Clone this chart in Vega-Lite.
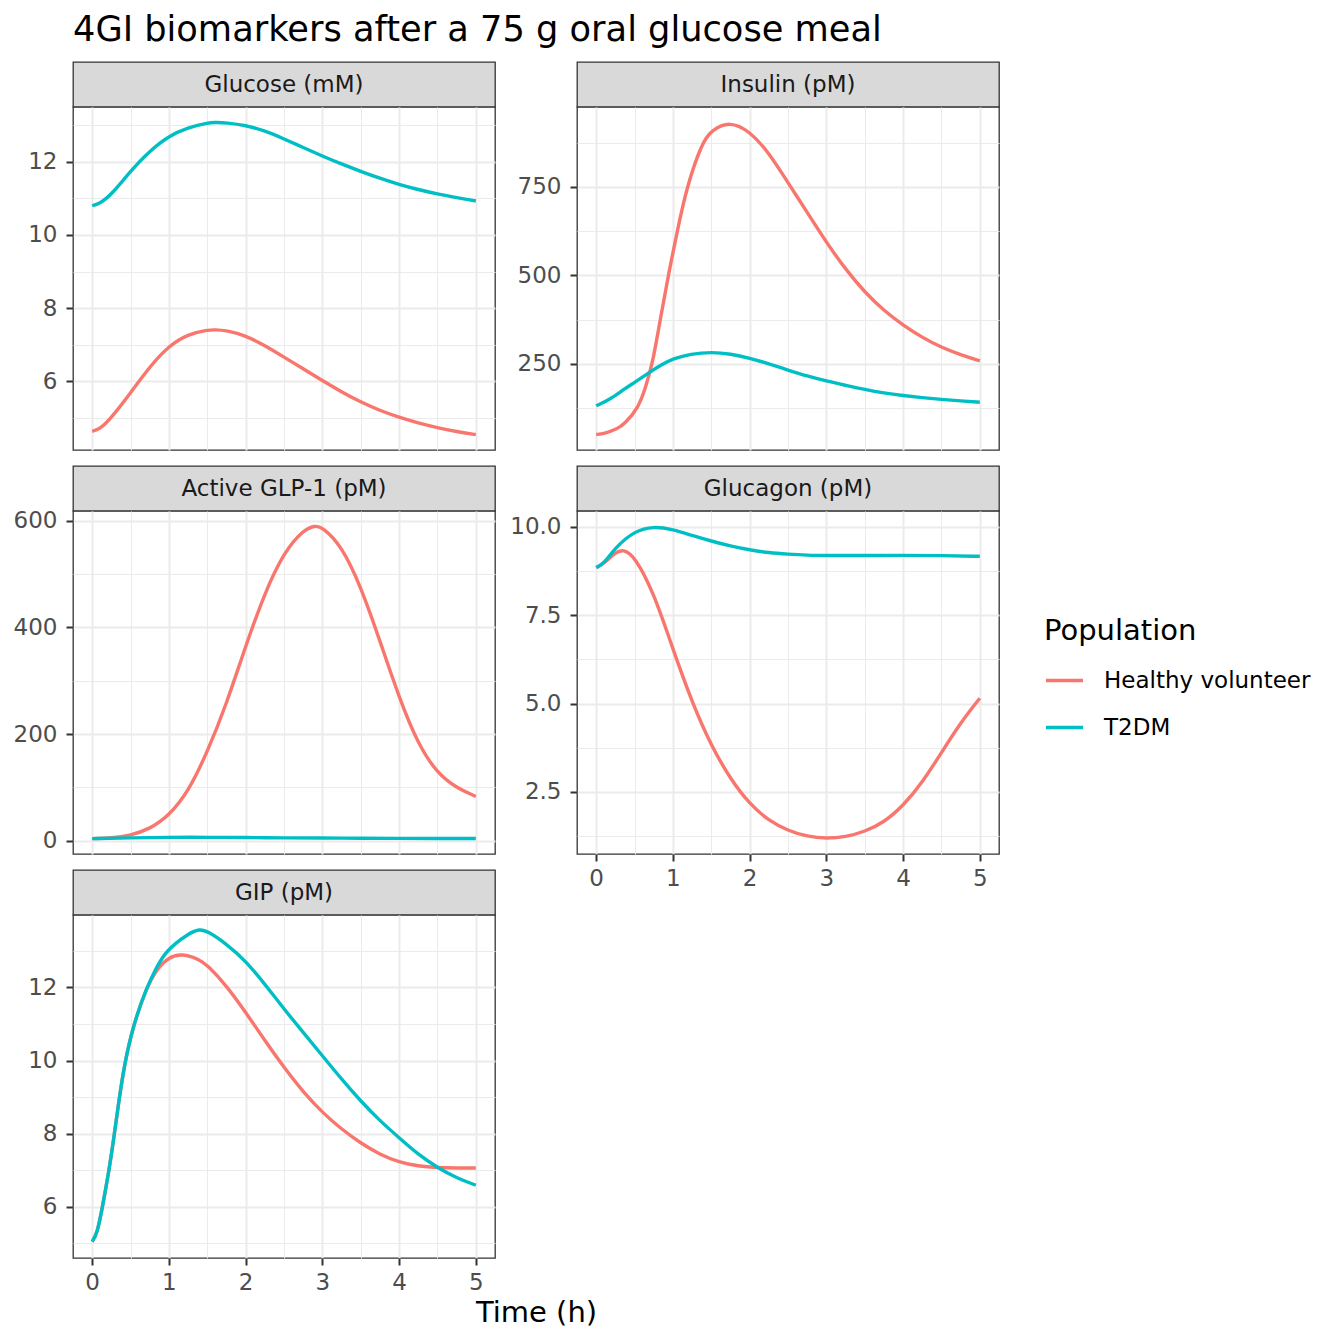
{
  "$schema": "https://vega.github.io/schema/vega-lite/v6.json",
  "background": "white",
  "padding": {"left": 12, "top": 13, "right": 5, "bottom": 5},
  "title": {"text": "4GI biomarkers after a 75 g oral glucose meal", "anchor": "start", "frame": "group", "font": "DejaVu Sans", "fontSize": 35.2, "fontWeight": "normal", "color": "#000000", "offset": 13},
  "datasets": {
    "bio": [
      {"panel": "Glucose (mM)", "population": "Healthy volunteer", "time": 0, "value": 4.63},
      {"panel": "Glucose (mM)", "population": "Healthy volunteer", "time": 0.1, "value": 4.69},
      {"panel": "Glucose (mM)", "population": "Healthy volunteer", "time": 0.25, "value": 5.0},
      {"panel": "Glucose (mM)", "population": "Healthy volunteer", "time": 0.5, "value": 5.68},
      {"panel": "Glucose (mM)", "population": "Healthy volunteer", "time": 0.75, "value": 6.40},
      {"panel": "Glucose (mM)", "population": "Healthy volunteer", "time": 1, "value": 6.97},
      {"panel": "Glucose (mM)", "population": "Healthy volunteer", "time": 1.25, "value": 7.29},
      {"panel": "Glucose (mM)", "population": "Healthy volunteer", "time": 1.5, "value": 7.40},
      {"panel": "Glucose (mM)", "population": "Healthy volunteer", "time": 1.6, "value": 7.41},
      {"panel": "Glucose (mM)", "population": "Healthy volunteer", "time": 1.75, "value": 7.39},
      {"panel": "Glucose (mM)", "population": "Healthy volunteer", "time": 2, "value": 7.25},
      {"panel": "Glucose (mM)", "population": "Healthy volunteer", "time": 2.25, "value": 6.98},
      {"panel": "Glucose (mM)", "population": "Healthy volunteer", "time": 2.5, "value": 6.66},
      {"panel": "Glucose (mM)", "population": "Healthy volunteer", "time": 2.75, "value": 6.34},
      {"panel": "Glucose (mM)", "population": "Healthy volunteer", "time": 3, "value": 6.02},
      {"panel": "Glucose (mM)", "population": "Healthy volunteer", "time": 3.25, "value": 5.71},
      {"panel": "Glucose (mM)", "population": "Healthy volunteer", "time": 3.5, "value": 5.43},
      {"panel": "Glucose (mM)", "population": "Healthy volunteer", "time": 3.75, "value": 5.20},
      {"panel": "Glucose (mM)", "population": "Healthy volunteer", "time": 4, "value": 5.01},
      {"panel": "Glucose (mM)", "population": "Healthy volunteer", "time": 4.25, "value": 4.86},
      {"panel": "Glucose (mM)", "population": "Healthy volunteer", "time": 4.5, "value": 4.73},
      {"panel": "Glucose (mM)", "population": "Healthy volunteer", "time": 4.75, "value": 4.62},
      {"panel": "Glucose (mM)", "population": "Healthy volunteer", "time": 5, "value": 4.54},
      {"panel": "Glucose (mM)", "population": "T2DM", "time": 0, "value": 10.80},
      {"panel": "Glucose (mM)", "population": "T2DM", "time": 0.1, "value": 10.86},
      {"panel": "Glucose (mM)", "population": "T2DM", "time": 0.25, "value": 11.10},
      {"panel": "Glucose (mM)", "population": "T2DM", "time": 0.5, "value": 11.75},
      {"panel": "Glucose (mM)", "population": "T2DM", "time": 0.75, "value": 12.30},
      {"panel": "Glucose (mM)", "population": "T2DM", "time": 1, "value": 12.71},
      {"panel": "Glucose (mM)", "population": "T2DM", "time": 1.25, "value": 12.94},
      {"panel": "Glucose (mM)", "population": "T2DM", "time": 1.5, "value": 13.06},
      {"panel": "Glucose (mM)", "population": "T2DM", "time": 1.6, "value": 13.08},
      {"panel": "Glucose (mM)", "population": "T2DM", "time": 1.75, "value": 13.07},
      {"panel": "Glucose (mM)", "population": "T2DM", "time": 2, "value": 13.00},
      {"panel": "Glucose (mM)", "population": "T2DM", "time": 2.25, "value": 12.85},
      {"panel": "Glucose (mM)", "population": "T2DM", "time": 2.5, "value": 12.63},
      {"panel": "Glucose (mM)", "population": "T2DM", "time": 2.75, "value": 12.39},
      {"panel": "Glucose (mM)", "population": "T2DM", "time": 3, "value": 12.16},
      {"panel": "Glucose (mM)", "population": "T2DM", "time": 3.25, "value": 11.94},
      {"panel": "Glucose (mM)", "population": "T2DM", "time": 3.5, "value": 11.74},
      {"panel": "Glucose (mM)", "population": "T2DM", "time": 3.75, "value": 11.55},
      {"panel": "Glucose (mM)", "population": "T2DM", "time": 4, "value": 11.38},
      {"panel": "Glucose (mM)", "population": "T2DM", "time": 4.25, "value": 11.24},
      {"panel": "Glucose (mM)", "population": "T2DM", "time": 4.5, "value": 11.12},
      {"panel": "Glucose (mM)", "population": "T2DM", "time": 4.75, "value": 11.02},
      {"panel": "Glucose (mM)", "population": "T2DM", "time": 5, "value": 10.93},

      {"panel": "Insulin (pM)", "population": "Healthy volunteer", "time": 0, "value": 50},
      {"panel": "Insulin (pM)", "population": "Healthy volunteer", "time": 0.1, "value": 52},
      {"panel": "Insulin (pM)", "population": "Healthy volunteer", "time": 0.28, "value": 66},
      {"panel": "Insulin (pM)", "population": "Healthy volunteer", "time": 0.37, "value": 80},
      {"panel": "Insulin (pM)", "population": "Healthy volunteer", "time": 0.55, "value": 125},
      {"panel": "Insulin (pM)", "population": "Healthy volunteer", "time": 0.64, "value": 180},
      {"panel": "Insulin (pM)", "population": "Healthy volunteer", "time": 0.735, "value": 250},
      {"panel": "Insulin (pM)", "population": "Healthy volunteer", "time": 0.835, "value": 375},
      {"panel": "Insulin (pM)", "population": "Healthy volunteer", "time": 0.94, "value": 500},
      {"panel": "Insulin (pM)", "population": "Healthy volunteer", "time": 1.06, "value": 628},
      {"panel": "Insulin (pM)", "population": "Healthy volunteer", "time": 1.18, "value": 750},
      {"panel": "Insulin (pM)", "population": "Healthy volunteer", "time": 1.38, "value": 875},
      {"panel": "Insulin (pM)", "population": "Healthy volunteer", "time": 1.5, "value": 910},
      {"panel": "Insulin (pM)", "population": "Healthy volunteer", "time": 1.74, "value": 936},
      {"panel": "Insulin (pM)", "population": "Healthy volunteer", "time": 2, "value": 908},
      {"panel": "Insulin (pM)", "population": "Healthy volunteer", "time": 2.25, "value": 847},
      {"panel": "Insulin (pM)", "population": "Healthy volunteer", "time": 2.5, "value": 762},
      {"panel": "Insulin (pM)", "population": "Healthy volunteer", "time": 2.75, "value": 678},
      {"panel": "Insulin (pM)", "population": "Healthy volunteer", "time": 3, "value": 593},
      {"panel": "Insulin (pM)", "population": "Healthy volunteer", "time": 3.25, "value": 517},
      {"panel": "Insulin (pM)", "population": "Healthy volunteer", "time": 3.5, "value": 452},
      {"panel": "Insulin (pM)", "population": "Healthy volunteer", "time": 3.75, "value": 400},
      {"panel": "Insulin (pM)", "population": "Healthy volunteer", "time": 4, "value": 359},
      {"panel": "Insulin (pM)", "population": "Healthy volunteer", "time": 4.25, "value": 324},
      {"panel": "Insulin (pM)", "population": "Healthy volunteer", "time": 4.5, "value": 296},
      {"panel": "Insulin (pM)", "population": "Healthy volunteer", "time": 4.75, "value": 275},
      {"panel": "Insulin (pM)", "population": "Healthy volunteer", "time": 5, "value": 258},
      {"panel": "Insulin (pM)", "population": "T2DM", "time": 0, "value": 131},
      {"panel": "Insulin (pM)", "population": "T2DM", "time": 0.19, "value": 150},
      {"panel": "Insulin (pM)", "population": "T2DM", "time": 0.37, "value": 179},
      {"panel": "Insulin (pM)", "population": "T2DM", "time": 0.5, "value": 197},
      {"panel": "Insulin (pM)", "population": "T2DM", "time": 0.69, "value": 225},
      {"panel": "Insulin (pM)", "population": "T2DM", "time": 0.85, "value": 247},
      {"panel": "Insulin (pM)", "population": "T2DM", "time": 1, "value": 264},
      {"panel": "Insulin (pM)", "population": "T2DM", "time": 1.23, "value": 278},
      {"panel": "Insulin (pM)", "population": "T2DM", "time": 1.51, "value": 283},
      {"panel": "Insulin (pM)", "population": "T2DM", "time": 1.75, "value": 278},
      {"panel": "Insulin (pM)", "population": "T2DM", "time": 2, "value": 266},
      {"panel": "Insulin (pM)", "population": "T2DM", "time": 2.25, "value": 250},
      {"panel": "Insulin (pM)", "population": "T2DM", "time": 2.5, "value": 232},
      {"panel": "Insulin (pM)", "population": "T2DM", "time": 2.75, "value": 215},
      {"panel": "Insulin (pM)", "population": "T2DM", "time": 3, "value": 201},
      {"panel": "Insulin (pM)", "population": "T2DM", "time": 3.25, "value": 189},
      {"panel": "Insulin (pM)", "population": "T2DM", "time": 3.5, "value": 177},
      {"panel": "Insulin (pM)", "population": "T2DM", "time": 3.75, "value": 167},
      {"panel": "Insulin (pM)", "population": "T2DM", "time": 4, "value": 160},
      {"panel": "Insulin (pM)", "population": "T2DM", "time": 4.25, "value": 154},
      {"panel": "Insulin (pM)", "population": "T2DM", "time": 4.5, "value": 149},
      {"panel": "Insulin (pM)", "population": "T2DM", "time": 4.75, "value": 145},
      {"panel": "Insulin (pM)", "population": "T2DM", "time": 5, "value": 141},

      {"panel": "Active GLP-1 (pM)", "population": "Healthy volunteer", "time": 0, "value": 4},
      {"panel": "Active GLP-1 (pM)", "population": "Healthy volunteer", "time": 0.25, "value": 5},
      {"panel": "Active GLP-1 (pM)", "population": "Healthy volunteer", "time": 0.5, "value": 10},
      {"panel": "Active GLP-1 (pM)", "population": "Healthy volunteer", "time": 0.75, "value": 22},
      {"panel": "Active GLP-1 (pM)", "population": "Healthy volunteer", "time": 1, "value": 47},
      {"panel": "Active GLP-1 (pM)", "population": "Healthy volunteer", "time": 1.25, "value": 91},
      {"panel": "Active GLP-1 (pM)", "population": "Healthy volunteer", "time": 1.5, "value": 166},
      {"panel": "Active GLP-1 (pM)", "population": "Healthy volunteer", "time": 1.75, "value": 256},
      {"panel": "Active GLP-1 (pM)", "population": "Healthy volunteer", "time": 2, "value": 365},
      {"panel": "Active GLP-1 (pM)", "population": "Healthy volunteer", "time": 2.25, "value": 465},
      {"panel": "Active GLP-1 (pM)", "population": "Healthy volunteer", "time": 2.5, "value": 541},
      {"panel": "Active GLP-1 (pM)", "population": "Healthy volunteer", "time": 2.75, "value": 582},
      {"panel": "Active GLP-1 (pM)", "population": "Healthy volunteer", "time": 2.9, "value": 591},
      {"panel": "Active GLP-1 (pM)", "population": "Healthy volunteer", "time": 3, "value": 588},
      {"panel": "Active GLP-1 (pM)", "population": "Healthy volunteer", "time": 3.25, "value": 553},
      {"panel": "Active GLP-1 (pM)", "population": "Healthy volunteer", "time": 3.5, "value": 477},
      {"panel": "Active GLP-1 (pM)", "population": "Healthy volunteer", "time": 3.75, "value": 375},
      {"panel": "Active GLP-1 (pM)", "population": "Healthy volunteer", "time": 4, "value": 268},
      {"panel": "Active GLP-1 (pM)", "population": "Healthy volunteer", "time": 4.25, "value": 180},
      {"panel": "Active GLP-1 (pM)", "population": "Healthy volunteer", "time": 4.5, "value": 126},
      {"panel": "Active GLP-1 (pM)", "population": "Healthy volunteer", "time": 4.75, "value": 99},
      {"panel": "Active GLP-1 (pM)", "population": "Healthy volunteer", "time": 5, "value": 83},
      {"panel": "Active GLP-1 (pM)", "population": "T2DM", "time": 0, "value": 4},
      {"panel": "Active GLP-1 (pM)", "population": "T2DM", "time": 0.5, "value": 5.5},
      {"panel": "Active GLP-1 (pM)", "population": "T2DM", "time": 1, "value": 6.5},
      {"panel": "Active GLP-1 (pM)", "population": "T2DM", "time": 1.5, "value": 6.5},
      {"panel": "Active GLP-1 (pM)", "population": "T2DM", "time": 2, "value": 6},
      {"panel": "Active GLP-1 (pM)", "population": "T2DM", "time": 2.5, "value": 5.5},
      {"panel": "Active GLP-1 (pM)", "population": "T2DM", "time": 3, "value": 5},
      {"panel": "Active GLP-1 (pM)", "population": "T2DM", "time": 3.5, "value": 4.8},
      {"panel": "Active GLP-1 (pM)", "population": "T2DM", "time": 4, "value": 4.5},
      {"panel": "Active GLP-1 (pM)", "population": "T2DM", "time": 4.5, "value": 4.3},
      {"panel": "Active GLP-1 (pM)", "population": "T2DM", "time": 5, "value": 4.2},

      {"panel": "Glucagon (pM)", "population": "Healthy volunteer", "time": 0, "value": 8.85},
      {"panel": "Glucagon (pM)", "population": "Healthy volunteer", "time": 0.1, "value": 8.96},
      {"panel": "Glucagon (pM)", "population": "Healthy volunteer", "time": 0.25, "value": 9.28},
      {"panel": "Glucagon (pM)", "population": "Healthy volunteer", "time": 0.35, "value": 9.37},
      {"panel": "Glucagon (pM)", "population": "Healthy volunteer", "time": 0.5, "value": 9.18},
      {"panel": "Glucagon (pM)", "population": "Healthy volunteer", "time": 0.75, "value": 8.14},
      {"panel": "Glucagon (pM)", "population": "Healthy volunteer", "time": 1, "value": 6.54},
      {"panel": "Glucagon (pM)", "population": "Healthy volunteer", "time": 1.25, "value": 5.03},
      {"panel": "Glucagon (pM)", "population": "Healthy volunteer", "time": 1.5, "value": 3.80},
      {"panel": "Glucagon (pM)", "population": "Healthy volunteer", "time": 1.75, "value": 2.86},
      {"panel": "Glucagon (pM)", "population": "Healthy volunteer", "time": 2, "value": 2.15},
      {"panel": "Glucagon (pM)", "population": "Healthy volunteer", "time": 2.25, "value": 1.68},
      {"panel": "Glucagon (pM)", "population": "Healthy volunteer", "time": 2.5, "value": 1.40},
      {"panel": "Glucagon (pM)", "population": "Healthy volunteer", "time": 2.75, "value": 1.23},
      {"panel": "Glucagon (pM)", "population": "Healthy volunteer", "time": 3, "value": 1.17},
      {"panel": "Glucagon (pM)", "population": "Healthy volunteer", "time": 3.25, "value": 1.22},
      {"panel": "Glucagon (pM)", "population": "Healthy volunteer", "time": 3.5, "value": 1.37},
      {"panel": "Glucagon (pM)", "population": "Healthy volunteer", "time": 3.75, "value": 1.63},
      {"panel": "Glucagon (pM)", "population": "Healthy volunteer", "time": 4, "value": 2.10},
      {"panel": "Glucagon (pM)", "population": "Healthy volunteer", "time": 4.25, "value": 2.76},
      {"panel": "Glucagon (pM)", "population": "Healthy volunteer", "time": 4.5, "value": 3.61},
      {"panel": "Glucagon (pM)", "population": "Healthy volunteer", "time": 4.75, "value": 4.46},
      {"panel": "Glucagon (pM)", "population": "Healthy volunteer", "time": 5, "value": 5.15},
      {"panel": "Glucagon (pM)", "population": "T2DM", "time": 0, "value": 8.85},
      {"panel": "Glucagon (pM)", "population": "T2DM", "time": 0.1, "value": 8.96},
      {"panel": "Glucagon (pM)", "population": "T2DM", "time": 0.25, "value": 9.42},
      {"panel": "Glucagon (pM)", "population": "T2DM", "time": 0.5, "value": 9.89},
      {"panel": "Glucagon (pM)", "population": "T2DM", "time": 0.75, "value": 10.02},
      {"panel": "Glucagon (pM)", "population": "T2DM", "time": 1, "value": 9.93},
      {"panel": "Glucagon (pM)", "population": "T2DM", "time": 1.25, "value": 9.76},
      {"panel": "Glucagon (pM)", "population": "T2DM", "time": 1.5, "value": 9.60},
      {"panel": "Glucagon (pM)", "population": "T2DM", "time": 1.75, "value": 9.46},
      {"panel": "Glucagon (pM)", "population": "T2DM", "time": 2, "value": 9.35},
      {"panel": "Glucagon (pM)", "population": "T2DM", "time": 2.25, "value": 9.27},
      {"panel": "Glucagon (pM)", "population": "T2DM", "time": 2.5, "value": 9.23},
      {"panel": "Glucagon (pM)", "population": "T2DM", "time": 2.75, "value": 9.20},
      {"panel": "Glucagon (pM)", "population": "T2DM", "time": 3, "value": 9.19},
      {"panel": "Glucagon (pM)", "population": "T2DM", "time": 3.5, "value": 9.19},
      {"panel": "Glucagon (pM)", "population": "T2DM", "time": 4, "value": 9.20},
      {"panel": "Glucagon (pM)", "population": "T2DM", "time": 4.5, "value": 9.19},
      {"panel": "Glucagon (pM)", "population": "T2DM", "time": 5, "value": 9.17},

      {"panel": "GIP (pM)", "population": "Healthy volunteer", "time": 0, "value": 5.05},
      {"panel": "GIP (pM)", "population": "Healthy volunteer", "time": 0.065, "value": 5.27},
      {"panel": "GIP (pM)", "population": "Healthy volunteer", "time": 0.13, "value": 5.95},
      {"panel": "GIP (pM)", "population": "Healthy volunteer", "time": 0.22, "value": 7.0},
      {"panel": "GIP (pM)", "population": "Healthy volunteer", "time": 0.28, "value": 7.85},
      {"panel": "GIP (pM)", "population": "Healthy volunteer", "time": 0.345, "value": 8.85},
      {"panel": "GIP (pM)", "population": "Healthy volunteer", "time": 0.42, "value": 9.9},
      {"panel": "GIP (pM)", "population": "Healthy volunteer", "time": 0.54, "value": 11.0},
      {"panel": "GIP (pM)", "population": "Healthy volunteer", "time": 0.71, "value": 12.0},
      {"panel": "GIP (pM)", "population": "Healthy volunteer", "time": 0.84, "value": 12.5},
      {"panel": "GIP (pM)", "population": "Healthy volunteer", "time": 1.0, "value": 12.83},
      {"panel": "GIP (pM)", "population": "Healthy volunteer", "time": 1.17, "value": 12.93},
      {"panel": "GIP (pM)", "population": "Healthy volunteer", "time": 1.4, "value": 12.76},
      {"panel": "GIP (pM)", "population": "Healthy volunteer", "time": 1.5, "value": 12.61},
      {"panel": "GIP (pM)", "population": "Healthy volunteer", "time": 1.75, "value": 12.05},
      {"panel": "GIP (pM)", "population": "Healthy volunteer", "time": 2, "value": 11.32},
      {"panel": "GIP (pM)", "population": "Healthy volunteer", "time": 2.25, "value": 10.55},
      {"panel": "GIP (pM)", "population": "Healthy volunteer", "time": 2.5, "value": 9.81},
      {"panel": "GIP (pM)", "population": "Healthy volunteer", "time": 2.75, "value": 9.14},
      {"panel": "GIP (pM)", "population": "Healthy volunteer", "time": 3, "value": 8.58},
      {"panel": "GIP (pM)", "population": "Healthy volunteer", "time": 3.25, "value": 8.12},
      {"panel": "GIP (pM)", "population": "Healthy volunteer", "time": 3.5, "value": 7.74},
      {"panel": "GIP (pM)", "population": "Healthy volunteer", "time": 3.75, "value": 7.43},
      {"panel": "GIP (pM)", "population": "Healthy volunteer", "time": 4, "value": 7.22},
      {"panel": "GIP (pM)", "population": "Healthy volunteer", "time": 4.25, "value": 7.11},
      {"panel": "GIP (pM)", "population": "Healthy volunteer", "time": 4.5, "value": 7.07},
      {"panel": "GIP (pM)", "population": "Healthy volunteer", "time": 4.75, "value": 7.06},
      {"panel": "GIP (pM)", "population": "Healthy volunteer", "time": 5, "value": 7.06},
      {"panel": "GIP (pM)", "population": "T2DM", "time": 0, "value": 5.05},
      {"panel": "GIP (pM)", "population": "T2DM", "time": 0.065, "value": 5.27},
      {"panel": "GIP (pM)", "population": "T2DM", "time": 0.13, "value": 5.95},
      {"panel": "GIP (pM)", "population": "T2DM", "time": 0.22, "value": 7.0},
      {"panel": "GIP (pM)", "population": "T2DM", "time": 0.28, "value": 7.85},
      {"panel": "GIP (pM)", "population": "T2DM", "time": 0.345, "value": 8.85},
      {"panel": "GIP (pM)", "population": "T2DM", "time": 0.42, "value": 9.9},
      {"panel": "GIP (pM)", "population": "T2DM", "time": 0.54, "value": 11.0},
      {"panel": "GIP (pM)", "population": "T2DM", "time": 0.71, "value": 12.0},
      {"panel": "GIP (pM)", "population": "T2DM", "time": 0.84, "value": 12.55},
      {"panel": "GIP (pM)", "population": "T2DM", "time": 0.96, "value": 13.0},
      {"panel": "GIP (pM)", "population": "T2DM", "time": 1.25, "value": 13.47},
      {"panel": "GIP (pM)", "population": "T2DM", "time": 1.4, "value": 13.60},
      {"panel": "GIP (pM)", "population": "T2DM", "time": 1.5, "value": 13.54},
      {"panel": "GIP (pM)", "population": "T2DM", "time": 1.75, "value": 13.19},
      {"panel": "GIP (pM)", "population": "T2DM", "time": 2, "value": 12.73},
      {"panel": "GIP (pM)", "population": "T2DM", "time": 2.25, "value": 12.09},
      {"panel": "GIP (pM)", "population": "T2DM", "time": 2.5, "value": 11.41},
      {"panel": "GIP (pM)", "population": "T2DM", "time": 2.75, "value": 10.77},
      {"panel": "GIP (pM)", "population": "T2DM", "time": 3, "value": 10.13},
      {"panel": "GIP (pM)", "population": "T2DM", "time": 3.25, "value": 9.49},
      {"panel": "GIP (pM)", "population": "T2DM", "time": 3.5, "value": 8.89},
      {"panel": "GIP (pM)", "population": "T2DM", "time": 3.75, "value": 8.35},
      {"panel": "GIP (pM)", "population": "T2DM", "time": 4, "value": 7.89},
      {"panel": "GIP (pM)", "population": "T2DM", "time": 4.25, "value": 7.43},
      {"panel": "GIP (pM)", "population": "T2DM", "time": 4.5, "value": 7.07},
      {"panel": "GIP (pM)", "population": "T2DM", "time": 4.75, "value": 6.79},
      {"panel": "GIP (pM)", "population": "T2DM", "time": 5, "value": 6.59}
    ]
  },
  "columns": 2,
  "spacing": {"row": 0, "column": 82},
  "bounds": "flush",
  "resolve": {"scale": {"x": "independent", "y": "independent"}},
  "concat": [
    {"width": 422, "height": 45, "view": {"fill": "#D9D9D9", "stroke": "#333333", "strokeWidth": 1.3}, "data": {"values": [{"label": "Glucose (mM)"}]}, "mark": {"type": "text", "fontSize": 23, "color": "#1A1A1A"}, "encoding": {"text": {"field": "label"}}},
    {"width": 422, "height": 45, "view": {"fill": "#D9D9D9", "stroke": "#333333", "strokeWidth": 1.3}, "data": {"values": [{"label": "Insulin (pM)"}]}, "mark": {"type": "text", "fontSize": 23, "color": "#1A1A1A"}, "encoding": {"text": {"field": "label"}}},
    {
      "width": 422, "height": 343,
      "data": {"name": "bio"},
      "transform": [{"filter": "datum.panel === 'Glucose (mM)'"}],
      "mark": {"type": "line", "strokeWidth": 3.4, "interpolate": "basis"},
      "encoding": {
        "x": {"field": "time", "type": "quantitative", "scale": {"domain": [-0.25, 5.25], "nice": false, "zero": false},
              "axis": {"title": null, "values": [0, 0.5, 1, 1.5, 2, 2.5, 3, 3.5, 4, 4.5, 5], "labels": false, "ticks": false,
                       "gridWidth": {"condition": {"test": "datum.value % 1 === 0", "value": 2}, "value": 1}}},
        "y": {"field": "value", "type": "quantitative", "scale": {"domain": [4.12, 13.5], "nice": false, "zero": false},
              "axis": {"title": null, "values": [5, 6, 7, 8, 9, 10, 11, 12, 13],
                       "labelExpr": "datum.value % 2 === 0 ? format(datum.value, 'd') : ''",
                       "tickOpacity": {"condition": {"test": "datum.value % 2 === 0", "value": 1}, "value": 0},
                       "gridWidth": {"condition": {"test": "datum.value % 2 === 0", "value": 2}, "value": 1}}},
        "color": {"field": "population", "type": "nominal", "scale": {"domain": ["Healthy volunteer", "T2DM"], "range": ["#F8766D", "#00BFC4"]},
                  "legend": {"title": "Population", "orient": "none", "legendX": 971, "legendY": 555}}
      }
    },
    {
      "width": 422, "height": 343,
      "data": {"name": "bio"},
      "transform": [{"filter": "datum.panel === 'Insulin (pM)'"}],
      "mark": {"type": "line", "strokeWidth": 3.4, "interpolate": "basis"},
      "encoding": {
        "x": {"field": "time", "type": "quantitative", "scale": {"domain": [-0.25, 5.25], "nice": false, "zero": false},
              "axis": {"title": null, "values": [0, 0.5, 1, 1.5, 2, 2.5, 3, 3.5, 4, 4.5, 5], "labels": false, "ticks": false,
                       "gridWidth": {"condition": {"test": "datum.value % 1 === 0", "value": 2}, "value": 1}}},
        "y": {"field": "value", "type": "quantitative", "scale": {"domain": [6, 976], "nice": false, "zero": false},
              "axis": {"title": null, "values": [125, 250, 375, 500, 625, 750, 875],
                       "labelExpr": "datum.value % 250 === 0 ? format(datum.value, 'd') : ''",
                       "tickOpacity": {"condition": {"test": "datum.value % 250 === 0", "value": 1}, "value": 0},
                       "gridWidth": {"condition": {"test": "datum.value % 250 === 0", "value": 2}, "value": 1}}},
        "color": {"field": "population", "type": "nominal", "scale": {"domain": ["Healthy volunteer", "T2DM"], "range": ["#F8766D", "#00BFC4"]},
                  "legend": {"title": "Population", "orient": "none", "legendX": 971, "legendY": 555}}
      }
    },
    {"width": 422, "height": 16, "view": {"stroke": null, "fill": null}, "data": {"values": [{}]}, "mark": "text", "encoding": {"text": {"value": ""}}},
    {"width": 422, "height": 16, "view": {"stroke": null, "fill": null}, "data": {"values": [{}]}, "mark": "text", "encoding": {"text": {"value": ""}}},
    {"width": 422, "height": 45, "view": {"fill": "#D9D9D9", "stroke": "#333333", "strokeWidth": 1.3}, "data": {"values": [{"label": "Active GLP-1 (pM)"}]}, "mark": {"type": "text", "fontSize": 23, "color": "#1A1A1A"}, "encoding": {"text": {"field": "label"}}},
    {"width": 422, "height": 45, "view": {"fill": "#D9D9D9", "stroke": "#333333", "strokeWidth": 1.3}, "data": {"values": [{"label": "Glucagon (pM)"}]}, "mark": {"type": "text", "fontSize": 23, "color": "#1A1A1A"}, "encoding": {"text": {"field": "label"}}},
    {
      "width": 422, "height": 343,
      "data": {"name": "bio"},
      "transform": [{"filter": "datum.panel === 'Active GLP-1 (pM)'"}],
      "mark": {"type": "line", "strokeWidth": 3.4, "interpolate": "basis"},
      "encoding": {
        "x": {"field": "time", "type": "quantitative", "scale": {"domain": [-0.25, 5.25], "nice": false, "zero": false},
              "axis": {"title": null, "values": [0, 0.5, 1, 1.5, 2, 2.5, 3, 3.5, 4, 4.5, 5], "labels": false, "ticks": false,
                       "gridWidth": {"condition": {"test": "datum.value % 1 === 0", "value": 2}, "value": 1}}},
        "y": {"field": "value", "type": "quantitative", "scale": {"domain": [-24.8, 618], "nice": false, "zero": false},
              "axis": {"title": null, "values": [0, 100, 200, 300, 400, 500, 600],
                       "labelExpr": "datum.value % 200 === 0 ? format(datum.value, 'd') : ''",
                       "tickOpacity": {"condition": {"test": "datum.value % 200 === 0", "value": 1}, "value": 0},
                       "gridWidth": {"condition": {"test": "datum.value % 200 === 0", "value": 2}, "value": 1}}},
        "color": {"field": "population", "type": "nominal", "scale": {"domain": ["Healthy volunteer", "T2DM"], "range": ["#F8766D", "#00BFC4"]},
                  "legend": {"title": "Population", "orient": "none", "legendX": 971, "legendY": 555}}
      }
    },
    {
      "width": 422, "height": 343,
      "data": {"name": "bio"},
      "transform": [{"filter": "datum.panel === 'Glucagon (pM)'"}],
      "mark": {"type": "line", "strokeWidth": 3.4, "interpolate": "basis"},
      "encoding": {
        "x": {"field": "time", "type": "quantitative", "scale": {"domain": [-0.25, 5.25], "nice": false, "zero": false},
              "axis": {"title": null, "values": [0, 0.5, 1, 1.5, 2, 2.5, 3, 3.5, 4, 4.5, 5], "labelPadding": 6,
                       "labelExpr": "datum.value % 1 === 0 ? format(datum.value, 'd') : ''",
                       "tickOpacity": {"condition": {"test": "datum.value % 1 === 0", "value": 1}, "value": 0},
                       "gridWidth": {"condition": {"test": "datum.value % 1 === 0", "value": 2}, "value": 1}}},
        "y": {"field": "value", "type": "quantitative", "scale": {"domain": [0.737, 10.453], "nice": false, "zero": false},
              "axis": {"title": null, "values": [1.25, 2.5, 3.75, 5, 6.25, 7.5, 8.75, 10],
                       "labelExpr": "datum.value % 2.5 === 0 ? format(datum.value, '.1f') : ''",
                       "tickOpacity": {"condition": {"test": "datum.value % 2.5 === 0", "value": 1}, "value": 0},
                       "gridWidth": {"condition": {"test": "datum.value % 2.5 === 0", "value": 2}, "value": 1}}},
        "color": {"field": "population", "type": "nominal", "scale": {"domain": ["Healthy volunteer", "T2DM"], "range": ["#F8766D", "#00BFC4"]},
                  "legend": {"title": "Population", "orient": "none", "legendX": 971, "legendY": 555}}
      }
    },
    {"width": 422, "height": 16, "view": {"stroke": null, "fill": null}, "data": {"values": [{}]}, "mark": "text", "encoding": {"text": {"value": ""}}},
    {"width": 422, "height": 16, "view": {"stroke": null, "fill": null}, "data": {"values": [{}]}, "mark": "text", "encoding": {"text": {"value": ""}}},
    {"width": 422, "height": 45, "view": {"fill": "#D9D9D9", "stroke": "#333333", "strokeWidth": 1.3}, "data": {"values": [{"label": "GIP (pM)"}]}, "mark": {"type": "text", "fontSize": 23, "color": "#1A1A1A"}, "encoding": {"text": {"field": "label"}}},
    {"width": 422, "height": 45, "view": {"stroke": null, "fill": null}, "data": {"values": [{}]}, "mark": "text", "encoding": {"text": {"value": ""}}},
    {
      "width": 422, "height": 343,
      "data": {"name": "bio"},
      "transform": [{"filter": "datum.panel === 'GIP (pM)'"}],
      "mark": {"type": "line", "strokeWidth": 3.4, "interpolate": "basis"},
      "encoding": {
        "x": {"field": "time", "type": "quantitative", "scale": {"domain": [-0.25, 5.25], "nice": false, "zero": false},
              "axis": {"title": "Time (h)", "titleX": 463, "titlePadding": 4, "labelPadding": 6, "values": [0, 0.5, 1, 1.5, 2, 2.5, 3, 3.5, 4, 4.5, 5],
                       "labelExpr": "datum.value % 1 === 0 ? format(datum.value, 'd') : ''",
                       "tickOpacity": {"condition": {"test": "datum.value % 1 === 0", "value": 1}, "value": 0},
                       "gridWidth": {"condition": {"test": "datum.value % 1 === 0", "value": 2}, "value": 1}}},
        "y": {"field": "value", "type": "quantitative", "scale": {"domain": [4.6, 13.98], "nice": false, "zero": false},
              "axis": {"title": null, "values": [5, 6, 7, 8, 9, 10, 11, 12, 13],
                       "labelExpr": "datum.value % 2 === 0 ? format(datum.value, 'd') : ''",
                       "tickOpacity": {"condition": {"test": "datum.value % 2 === 0", "value": 1}, "value": 0},
                       "gridWidth": {"condition": {"test": "datum.value % 2 === 0", "value": 2}, "value": 1}}},
        "color": {"field": "population", "type": "nominal", "scale": {"domain": ["Healthy volunteer", "T2DM"], "range": ["#F8766D", "#00BFC4"]},
                  "legend": {"title": "Population", "orient": "none", "legendX": 971, "legendY": 555}}
      }
    }
  ],
  "config": {
    "font": "DejaVu Sans",
    "view": {"stroke": "#333333", "strokeWidth": 1.3, "fill": "#FFFFFF"},
    "axis": {
      "domain": false, "labelFont": "DejaVu Sans", "labelFontSize": 23, "labelColor": "#4D4D4D",
      "tickColor": "#333333", "tickSize": 7, "tickWidth": 2, "labelPadding": 9,
      "gridColor": "#EBEBEB", "labelOverlap": false, "labelFlush": false, "labelBound": false,
      "titleFont": "DejaVu Sans", "titleFontSize": 29, "titleFontWeight": "normal", "titleColor": "#000000"
    },
    "legend": {
      "titleFont": "DejaVu Sans", "titleFontSize": 29, "titleFontWeight": "normal", "titleColor": "#000000",
      "labelFont": "DejaVu Sans", "labelFontSize": 23, "labelColor": "#000000", "labelLimit": 400,
      "symbolType": "stroke", "symbolSize": 1369, "symbolStrokeWidth": 3.4, "labelOffset": 19,
      "rowPadding": 14, "titlePadding": 14, "padding": 0
    }
  }
}
